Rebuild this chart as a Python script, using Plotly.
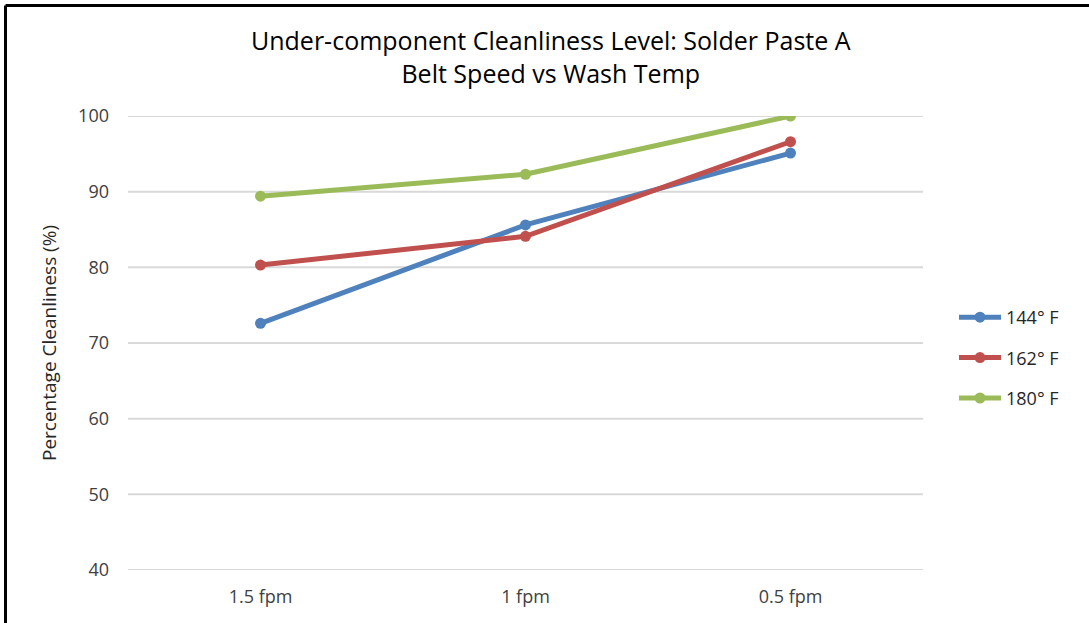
import plotly.graph_objects as go

categories = ["1.5 fpm", "1 fpm", "0.5 fpm"]
series_names = ["144° F", "162° F", "180° F"]
clean_144 = [72.6, 85.6, 95.1]
clean_162 = [80.3, 84.1, 96.6]
clean_180 = [89.4, 92.3, 100.0]
colors = ["#4F81BD", "#C0504D", "#9BBB59"]
y_ticks = [40, 50, 60, 70, 80, 90, 100]

W, H = 1089, 623
ML, MR, MT, MB = 128, 166, 116, 53
FONT = "'Open Sans', Lato, sans-serif"

fig = go.Figure()
for i, (name, vals) in enumerate(zip(series_names, [clean_144, clean_162, clean_180])):
    fig.add_trace(go.Scatter(
        x=categories, y=vals, name=name, mode="lines+markers",
        line=dict(color=colors[i], width=5),
        marker=dict(color=colors[i], size=11),
        legendgroup=f"g{i}",
    ))

pw = W - ML - MR
ph = H - MT - MB

# horizontal gridlines drawn as shapes so the edge values (40, 100) show too
grid = [dict(type="line", xref="paper", yref="y", x0=0, x1=1, y0=v, y1=v,
             layer="below", line=dict(color="#D9D9D9", width=2)) for v in y_ticks]

fig.update_layout(
    width=W, height=H,
    margin=dict(l=ML, r=MR, t=MT, b=MB),
    paper_bgcolor="white", plot_bgcolor="white",
    font=dict(family=FONT, color="#404040", size=17),
    showlegend=True,
    legend=dict(
        x=(954 - ML) / pw, xanchor="left",
        y=(570 - 358) / ph, yanchor="middle",
        font=dict(size=18, color="#262626"),
        tracegroupgap=14,
        itemwidth=42,
        bgcolor="rgba(0,0,0,0)",
    ),
    xaxis=dict(
        type="category", showgrid=False, zeroline=False, showline=False,
        ticks="", tickfont=dict(size=18, color="#404040"),
        range=[-0.5, 2.5], ticklabelstandoff=14,
    ),
    yaxis=dict(
        range=[40, 100], tickvals=y_ticks, showgrid=False,
        zeroline=False, showline=False, ticks="",
        tickfont=dict(size=18, color="#404040"),
        ticklabelstandoff=18,
        title=dict(text="Percentage Cleanliness (%)", font=dict(size=19, color="#262626"),
                   standoff=16),
    ),
    annotations=[dict(
        text="Under-component Cleanliness Level: Solder Paste A<br>Belt Speed vs Wash Temp",
        xref="paper", yref="paper",
        x=(551 - ML) / pw, y=(H - 57 - MB) / ph,
        xanchor="center", yanchor="middle", showarrow=False,
        font=dict(size=25, color="#000000", family=FONT),
    )],
    shapes=grid + [
        dict(type="line", xref="paper", yref="paper",
             x0=(5.5 - ML) / pw, x1=(W + 10 - ML) / pw,
             y0=(H - 5.5 - MB) / ph, y1=(H - 5.5 - MB) / ph,
             line=dict(color="black", width=3)),
        dict(type="line", xref="paper", yref="paper",
             x0=(5.5 - ML) / pw, x1=(5.5 - ML) / pw,
             y0=(H - 5.5 - MB) / ph, y1=(-10 - MB) / ph,
             line=dict(color="black", width=3)),
    ],
)

fig.write_html("out.html")
